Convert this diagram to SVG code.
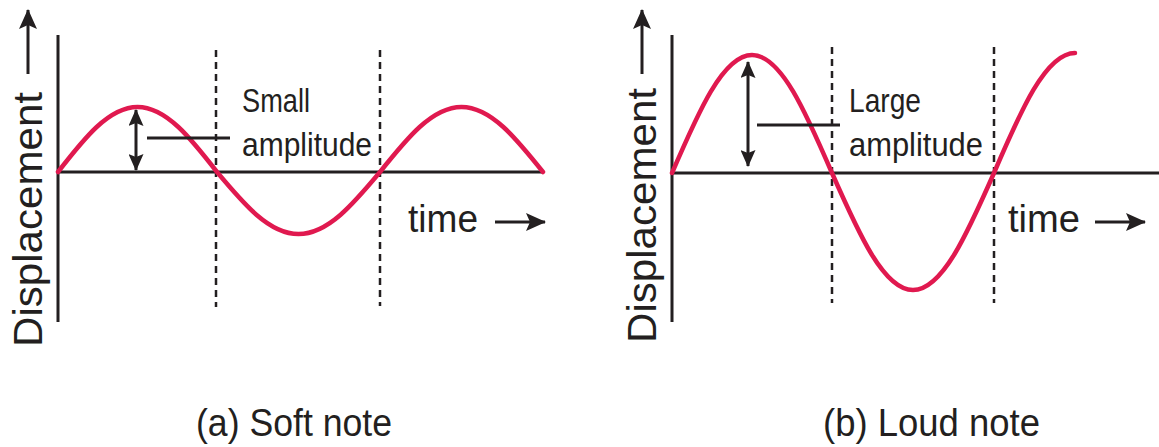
<svg xmlns="http://www.w3.org/2000/svg" width="1159" height="447" viewBox="0 0 1159 447">
<style>
.ax{stroke:#231f20;stroke-width:3;fill:none}
.dash{stroke:#231f20;stroke-width:2.5;fill:none;stroke-dasharray:7 5}
.wave{stroke:#e0194f;stroke-width:4.5;fill:none;stroke-linecap:round}
.ar{stroke:#231f20;stroke-width:3;fill:none}
.lbl{font-family:"Liberation Sans",Arial,sans-serif;fill:#231f20}
</style>
<defs>
<marker id="big" viewBox="0 0 20 18" refX="19" refY="9" markerWidth="20" markerHeight="18" markerUnits="userSpaceOnUse" orient="auto-start-reverse"><path d="M0,0 L20,9 L0,18 L4,9 z" fill="#231f20"/></marker>
<marker id="small" viewBox="0 0 17 15" refX="16" refY="7.5" markerWidth="17" markerHeight="15" markerUnits="userSpaceOnUse" orient="auto-start-reverse"><path d="M0,0 L17,7.5 L0,15 L3,7.5 z" fill="#231f20"/></marker>
</defs>
<g id="panel-a">
<line class="ax" x1="58" y1="35" x2="58" y2="322"/>
<line class="ax" x1="58" y1="172" x2="543" y2="172"/>
<line class="dash" x1="216" y1="50" x2="216" y2="307"/>
<line class="dash" x1="380" y1="50" x2="380" y2="306"/>
<path class="wave" d="M58,172 C83.9,138.7 108.7,107 137.5,107 C166.3,107 191.1,138.7 217,172 C243.6,203.8 269,234 298.5,234 C328,234 353.4,203.8 380,172 C406.6,138.7 432,107 461.5,107 C491,107 516.4,138.7 543,172"/>
<line class="ar" x1="136" y1="110" x2="136" y2="170" marker-start="url(#small)" marker-end="url(#small)"/>
<line class="ar" x1="147" y1="138" x2="230" y2="138"/>
<text class="lbl" x="242" y="112" font-size="33" textLength="68" lengthAdjust="spacingAndGlyphs">Small</text>
<text class="lbl" x="242" y="156" font-size="33" textLength="130" lengthAdjust="spacingAndGlyphs">amplitude</text>
<text class="lbl" x="408" y="232" font-size="38" textLength="70" lengthAdjust="spacingAndGlyphs">time</text>
<line class="ar" x1="495" y1="222" x2="545" y2="222" marker-end="url(#big)"/>
<text class="lbl" transform="translate(42,347) rotate(-90)" font-size="41" textLength="255" lengthAdjust="spacingAndGlyphs">Displacement</text>
<line class="ar" x1="28" y1="74" x2="28" y2="10" marker-end="url(#big)"/>
<text class="lbl" x="196" y="436" font-size="38" textLength="196" lengthAdjust="spacingAndGlyphs">(a) Soft note</text>
</g>
<g id="panel-b">
<line class="ax" x1="672" y1="35" x2="672" y2="322"/>
<line class="ax" x1="672" y1="173" x2="1159" y2="173"/>
<line class="dash" x1="832" y1="47" x2="832" y2="303"/>
<line class="dash" x1="994" y1="47" x2="994" y2="303"/>
<path class="wave" d="M672,173 C698.1,112.5 723,55 752,55 C781,55 805.9,112.5 832,173 C858.4,232.9 883.7,290 913,290 C942.3,290 967.6,232.9 994,173 C1020.4,111.5 1045.7,53 1075,53"/>
<line class="ar" x1="748" y1="62" x2="748" y2="166" marker-start="url(#small)" marker-end="url(#small)"/>
<line class="ar" x1="757" y1="125" x2="840" y2="125"/>
<text class="lbl" x="849" y="112" font-size="33" textLength="72" lengthAdjust="spacingAndGlyphs">Large</text>
<text class="lbl" x="849" y="156" font-size="33" textLength="134" lengthAdjust="spacingAndGlyphs">amplitude</text>
<text class="lbl" x="1008" y="232" font-size="38" textLength="72" lengthAdjust="spacingAndGlyphs">time</text>
<line class="ar" x1="1095" y1="222" x2="1145" y2="222" marker-end="url(#big)"/>
<text class="lbl" transform="translate(656,343) rotate(-90)" font-size="41" textLength="255" lengthAdjust="spacingAndGlyphs">Displacement</text>
<line class="ar" x1="642" y1="74" x2="642" y2="10" marker-end="url(#big)"/>
<text class="lbl" x="823" y="436" font-size="38" textLength="217" lengthAdjust="spacingAndGlyphs">(b) Loud note</text>
</g>
</svg>
